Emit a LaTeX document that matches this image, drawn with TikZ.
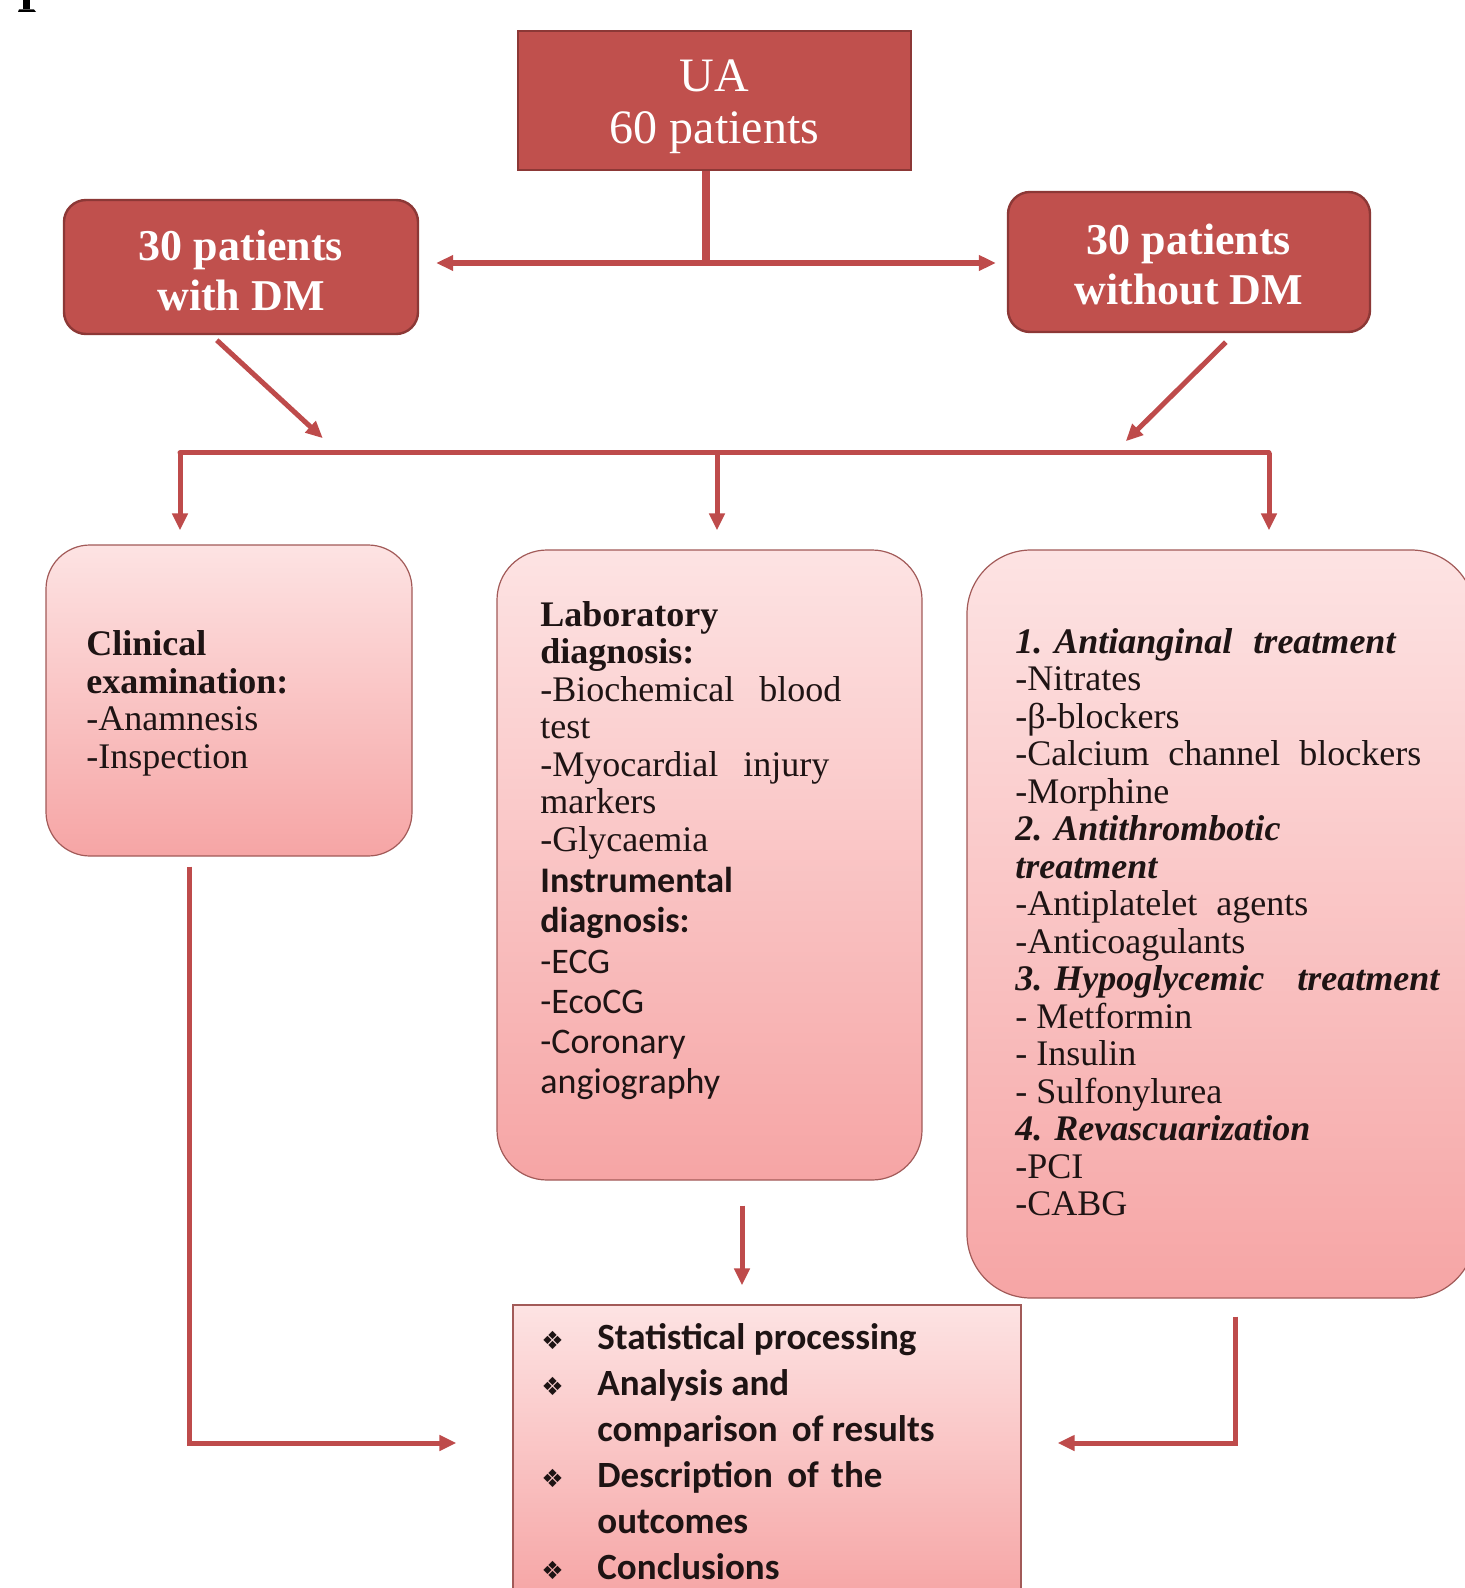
\documentclass[tikz,border=0pt]{standalone}
\usepackage{fontspec}
\setmainfont{Liberation Serif}
\newfontfamily\calib{Carlito}
\newfontfamily\djv{DejaVu Sans}
\usetikzlibrary{arrows.meta,shadows}
\definecolor{redfill}{HTML}{C0504D}
\definecolor{redline}{HTML}{8C3836}
\definecolor{arrowred}{HTML}{BE4B4B}
\definecolor{pinktop}{HTML}{FDE3E3}
\definecolor{pinkbot}{HTML}{F6A5A5}
\definecolor{pinkline}{HTML}{A25A58}
\definecolor{ink}{HTML}{1E1414}
\newcommand{\bul}{\makebox[28pt][l]{\djv\fontsize{12.5}{12.5}\selectfont ❖}}
\newcommand{\ind}{\makebox[28pt][l]{}}
\begin{document}
\begin{tikzpicture}[x=0.5pt,y=-0.5pt,
  redbox/.style={draw=redline, line width=1.2pt, fill=redfill, inner sep=0pt},
  redtext/.style={text=white, align=center, inner sep=0pt, font=\fontsize{22}{25}\selectfont\bfseries},
  pinkbox/.style={draw=pinkline, line width=0.6pt, top color=pinktop, bottom color=pinkbot, inner sep=0pt},
  txt/.style={anchor=north west, inner sep=0pt, align=left, text=ink},
  conn/.style={draw=arrowred, line width=2.5pt, -{Triangle[length=8.5pt,width=7.5pt]}},
  bus/.style={draw=arrowred, line width=2.5pt}
  ]
\fill[white] (0,0) rectangle (1465,1588);
\useasboundingbox (0,0) rectangle (1465,1588);

% fragment of a cut-off letter at top left
\fill[black] (23,0) rectangle (30,9);
\fill[black] (18,12) -- (19,9.5) -- (34,9.5) -- (36,12) -- cycle;

% top boxes
\node[redbox, minimum width=196.5pt, minimum height=69.5pt] (ua) at (714.5,100.5) {};
\node[redtext, font=\fontsize{24}{26}\selectfont] (uat) at (714.5,107) {UA\\60 patients};
\node[redbox, rounded corners=11pt, minimum width=177pt, minimum height=67pt] (dm) at (241,267) {};
\node[redtext] (dmt) at (241,270) {30 patients\\with DM};
\node[redbox, rounded corners=11pt, minimum width=181pt, minimum height=70pt] (nodm) at (1189,262) {};
\node[redtext] (nodmt) at (1189,265) {30 patients\\without DM};

% pink boxes
\node[pinkbox, rounded corners=22pt, minimum width=183pt, minimum height=155.5pt] (cl) at (229,700.5) {};
\node[pinkbox, rounded corners=25pt, minimum width=212.5pt, minimum height=315pt] (lab) at (709.5,865) {};
\node[pinkbox, rounded corners=32pt, minimum width=254pt, minimum height=374pt] (tr) at (1221,924) {};
\node[pinkbox, minimum width=254pt, minimum height=147.5pt] (res) at (767,1452.5) {};

% texts
\node[txt, font=\fontsize{18}{18.85}\selectfont] (clt) at (86,630)
  {\textbf{Clinical}\\\textbf{examination:}\\-Anamnesis\\-Inspection};
\node[txt, font=\fontsize{18}{18.75}\selectfont] (labt) at (540,601)
  {\textbf{Laboratory}\\\textbf{diagnosis:}\\-Biochemical\hspace{8pt} blood\\test\\-Myocardial\hspace{8pt} injury\\markers\\-Glycaemia};
\node[txt, font=\calib\fontsize{18}{20.1}\selectfont] (inst) at (540,867)
  {\textbf{Instrumental}\\\textbf{diagnosis:}\\-ECG\\-EcoCG\\-Coronary\\angiography};
\node[txt, font=\fontsize{18}{18.75}\selectfont] (trt) at (1015,628)
  {\textbf{\textit{1. Antianginal\hspace{6pt} treatment}}\\
   -Nitrates\\
   -β-blockers\\
   -Calcium\hspace{5pt} channel\hspace{5pt} blockers\\
   -Morphine\\
   \textbf{\textit{2. Antithrombotic}}\\
   \textbf{\textit{treatment}}\\
   -Antiplatelet\hspace{5pt} agents\\
   -Anticoagulants\\
   \textbf{\textit{3. Hypoglycemic\hspace{12pt} treatment}}\\
   - Metformin\\
   - Insulin\\
   - Sulfonylurea\\
   \textbf{\textit{4. Revascuarization}}\\
   -PCI\\
   -CABG};
\node[txt, font=\calib\bfseries\fontsize{18.5}{23}\selectfont] (rest) at (541,1323)
  {\bul Statistical processing\\
   \bul Analysis and\\
   \ind comparison\hspace{3pt} of results\\
   \bul Description\hspace{3pt} of\hspace{2pt} the\\
   \ind outcomes\\
   \bul Conclusions};

% connectors
\coordinate (split) at (706,263);
\draw[draw=arrowred, line width=4pt] (ua.south -| split) -- (split);
\draw[conn, line width=3pt, shorten >=8.5pt] (split) -- (split -| dm.east);
\draw[conn, line width=3pt, shorten >=5.5pt] (split) -- (split -| nodm.west);

\draw[conn] (dm.south west) ++(154,5) -- ++(106,98);
\draw[conn] (nodm.south west) ++(219,9) -- ++(-100,99);

\coordinate (b1) at (180,453);
\coordinate (b2) at (717,453);
\coordinate (b3) at (1269,453);
\draw[bus, line cap=round] (b1) -- (b3);
\draw[conn, shorten >=7pt] (b1) -- (b1 |- cl.north);
\draw[conn, shorten >=9.5pt] (b2) -- (b2 |- lab.north);
\draw[conn, shorten >=9.5pt] (b3) -- (b3 |- tr.north);

\coordinate (m1) at (742,1205);
\draw[conn, shorten <=12.5pt, shorten >=9.5pt] (lab.south -| m1) -- (m1 |- res.north);

\coordinate (l1) at (189,1443);
\draw[conn, shorten <=5pt, shorten >=28pt] (cl.south -| l1) -- (l1) -- (l1 -| res.west);
\coordinate (r1) at (1235,1443);
\draw[conn, shorten <=9pt, shorten >=18pt] (tr.south -| r1) -- (r1) -- (r1 -| res.east);
\end{tikzpicture}
\end{document}
